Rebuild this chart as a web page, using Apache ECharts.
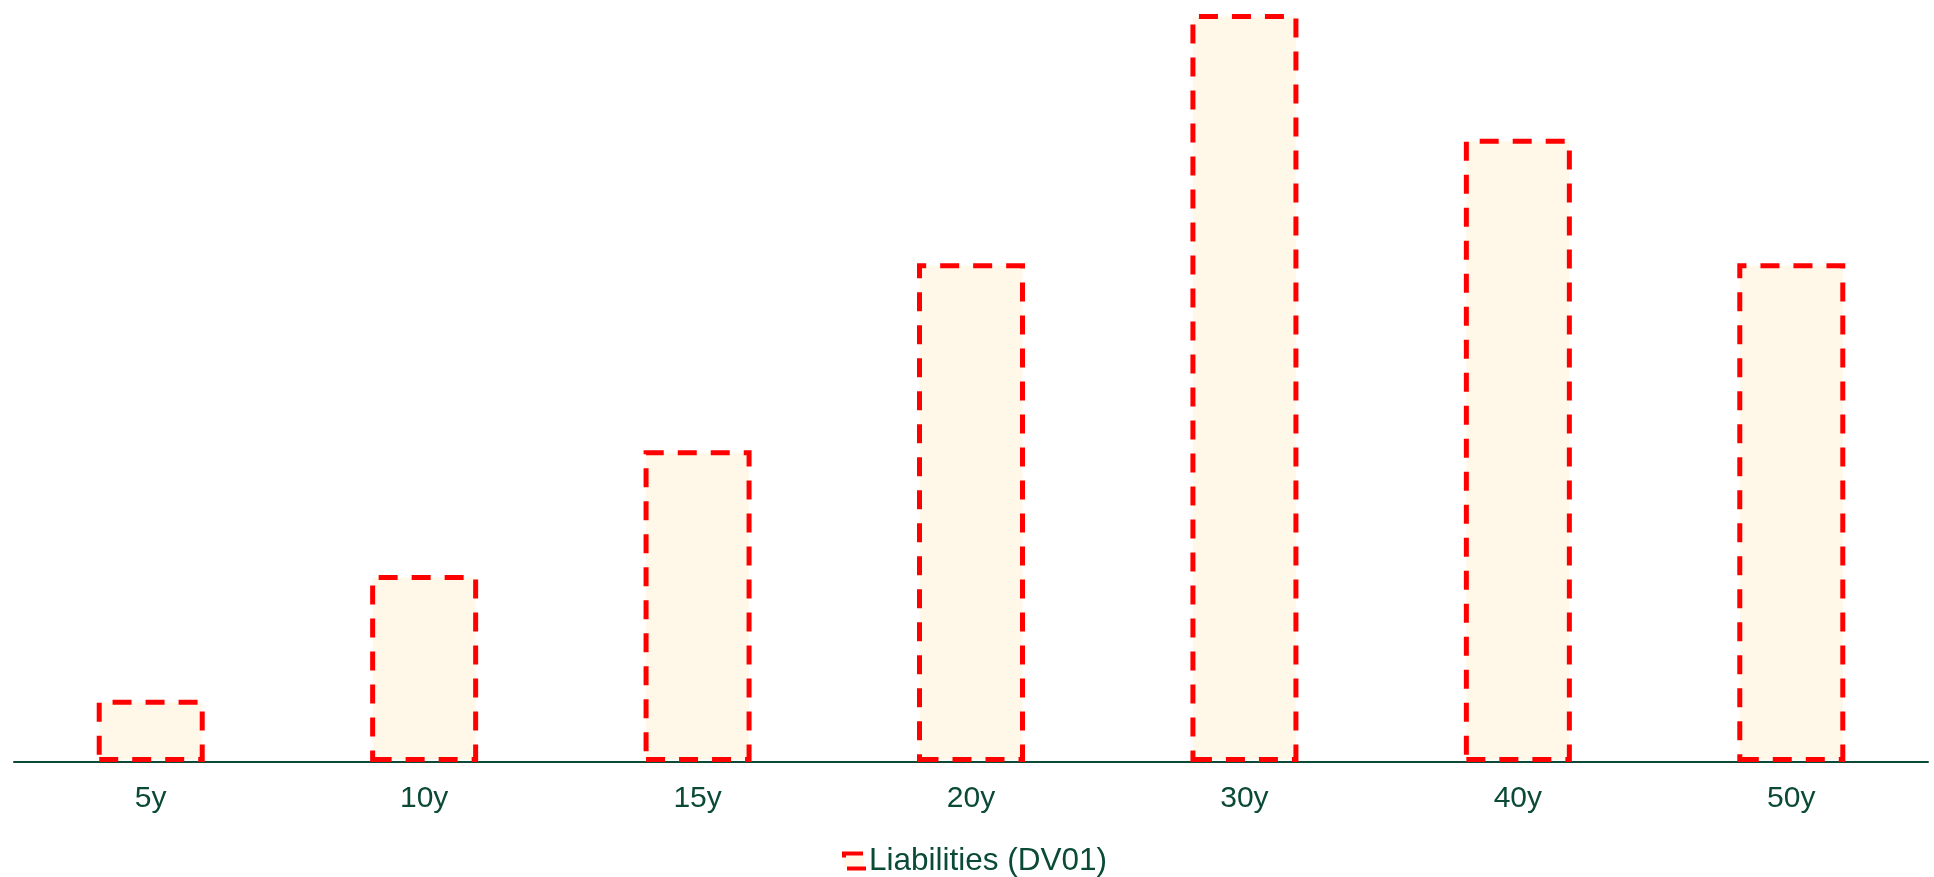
<!DOCTYPE html>
<html>
<head>
<meta charset="utf-8">
<script src="https://cdn.jsdelivr.net/npm/echarts@6/dist/echarts.min.js"></script>
<style>
  html, body { margin: 0; padding: 0; background: #fff; }
  #chart { width: 1934px; height: 877px; }
</style>
</head>
<body>
<div id="chart"></div>
<script>
const tenors = ['5y', '10y', '15y', '20y', '30y', '40y', '50y']
const liabilities = [1, 3, 5, 8, 12, 10, 8]
const seriesName = 'Liabilities (DV01)'

const green = '#0b4a37'
const myChart = echarts.init(document.getElementById('chart'))
myChart.setOption({
  animation: false,
  grid: { left: 14, right: 6, top: 14, bottom: 115 },
  legend: {
    bottom: 0,
    left: 842,
    padding: 0,
    icon: 'rect',
    itemWidth: 20,
    itemHeight: 15,
    itemGap: 4,
    itemStyle: { borderWidth: 4, borderColor: '#ff0000', borderType: [19, 14] },
    textStyle: { color: green, fontSize: 31.5, fontFamily: 'Liberation Sans' },
    data: [seriesName],
  },
  xAxis: {
    type: 'category',
    data: tenors,
    axisLine: { lineStyle: { color: green, width: 2 } },
    axisTick: { show: false },
    axisLabel: { color: green, fontSize: 30, fontFamily: 'Liberation Sans', margin: 22 },
  },
  yAxis: {
    type: 'value',
    min: 0,
    max: 12,
    show: false,
    splitLine: { show: false },
  },
  series: [
    {
      name: seriesName,
      type: 'bar',
      barWidth: '39.5%',
      data: liabilities,
      itemStyle: {
        color: '#fff8e8',
        borderColor: '#ff0000',
        borderWidth: 5,
        borderType: [19, 14],
      },
    },
  ],
})
</script>
</body>
</html>
